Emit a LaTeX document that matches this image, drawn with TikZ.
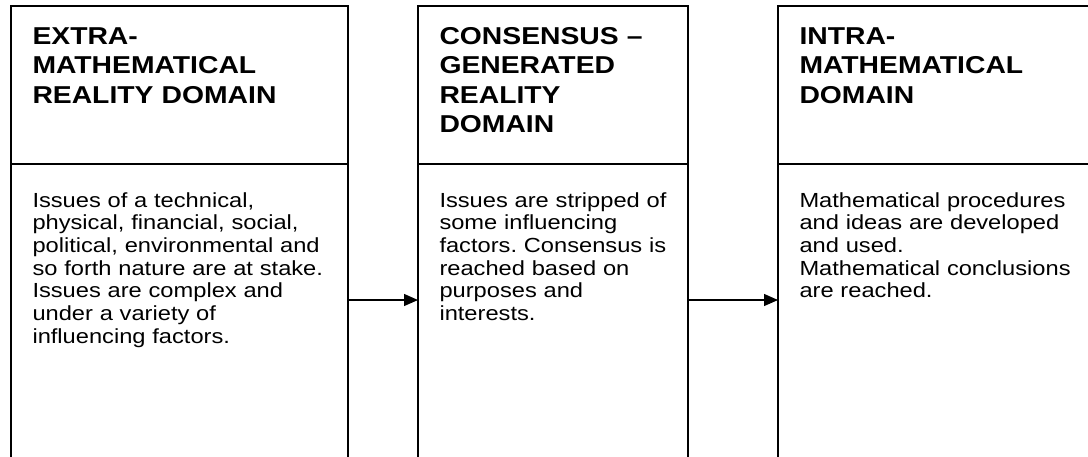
\documentclass[tikz,border=0pt]{standalone}
\usepackage{fontspec}
\setmainfont{Liberation Sans}[FakeStretch=1.16]
\usetikzlibrary{arrows.meta}
\frenchspacing

\begin{document}
\begin{tikzpicture}[x=1pt,y=-1pt]
\tikzset{domainbox/.style={draw,line width=1.3pt,anchor=north west,outer sep=0pt,
    inner xsep=21.5pt,inner ysep=12pt,align=left},
  headbox/.style={domainbox,font=\fontsize{24.4pt}{29.5pt}\bfseries\selectfont,
    text height=26pt,text depth=108pt},
  bodybox/.style={domainbox,font=\fontsize{20.4pt}{22.7pt}\selectfont,
    text height=31pt,text depth=261pt},
  link/.style={line width=1.3pt,-{Triangle[length=14pt,width=12pt]}}}
\useasboundingbox (0,0) rectangle (1088,456);
\clip (0,0) rectangle (1088,456);
\node[headbox,text width=294pt] (head1) at (11,6) {EXTRA-\\MATHEMATICAL\\REALITY DOMAIN};
\node[bodybox,text width=294pt] (body1) at (head1.south west)
  {Issues of a technical,\\physical, financial, social,\\political, environmental and\\
   so forth nature are at stake.\\Issues are complex and\\under a variety of\\influencing factors.};
\node[headbox,text width=227pt] (head2) at (418,6) {CONSENSUS –\\GENERATED\\REALITY\\DOMAIN};
\node[bodybox,text width=227pt] (body2) at (head2.south west)
  {Issues are stripped of\\some influencing\\factors. Consensus is\\reached based on\\
   purposes and\\interests.};
\node[headbox,text width=287pt] (head3) at (778,6) {INTRA-\\MATHEMATICAL\\DOMAIN};
\node[bodybox,text width=287pt] (body3) at (head3.south west)
  {Mathematical procedures\\and ideas are developed\\and used.\\Mathematical conclusions\\
   are reached.};
\draw[link] ([yshift=22pt]body1.east) -- ([yshift=22pt]body2.west);
\draw[link] ([yshift=22pt]body2.east) -- ([yshift=22pt]body3.west);
\end{tikzpicture}
\end{document}
